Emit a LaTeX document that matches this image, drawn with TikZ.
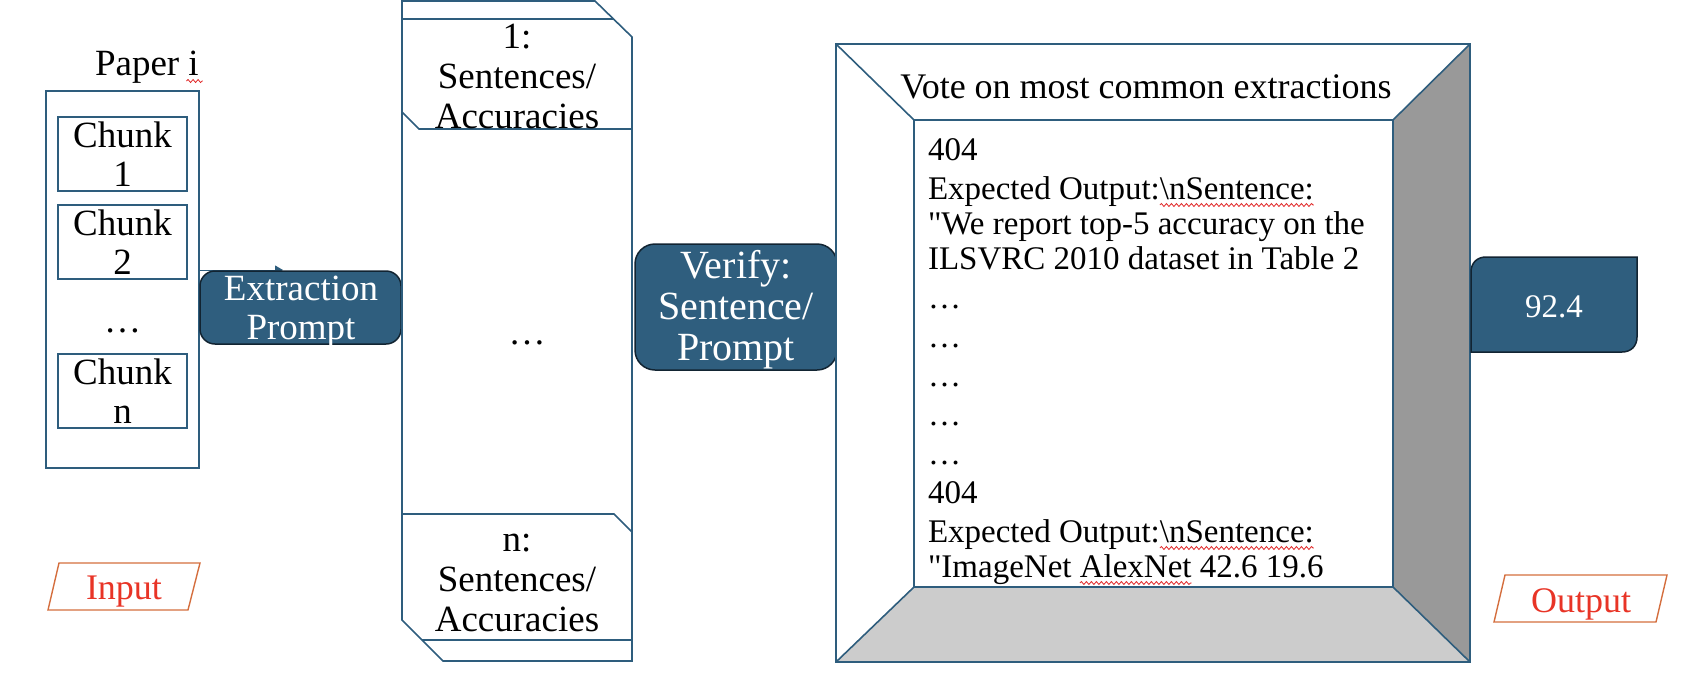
\documentclass[tikz,border=0pt]{standalone}
\usepackage{fontspec}
\setmainfont{Liberation Serif}[Ligatures=TeXOff]
\usetikzlibrary{arrows.meta,decorations.pathmorphing}
\definecolor{lineblue}{RGB}{46,93,125}
\definecolor{boxfill}{RGB}{47,94,126}
\definecolor{boxedge}{RGB}{18,36,50}
\definecolor{redtxt}{RGB}{232,52,38}
\definecolor{orangeedge}{RGB}{212,110,62}
\definecolor{panelgray}{RGB}{153,153,153}
\definecolor{floorgray}{RGB}{204,204,204}
\definecolor{squig}{RGB}{225,40,40}
\newcommand\fsz[2]{\fontsize{#1}{#2}\selectfont}
\begin{document}
\begin{tikzpicture}[x=1pt,y=-1pt,
  outl/.style={draw=lineblue,line width=1.6pt},
  txt/.style={inner sep=0pt,outer sep=0pt,font=\fsz{37}{39},text=black},
  bluebox/.style={draw=boxedge,line width=1.5pt,fill=boxfill,rounded corners=15pt,inner sep=0pt},
  wtxt/.style={inner sep=0pt,outer sep=0pt,text=white,align=center},
  tag/.style={draw=orangeedge,line width=1.4pt},
  tagtxt/.style={inner sep=0pt,outer sep=0pt,text=redtxt,font=\fsz{36}{40},anchor=base},
  wave/.style={draw=squig,line width=0.8pt,decorate,decoration={snake,amplitude=1.5pt,segment length=5pt}},
  body/.style={inner sep=0pt,outer sep=0pt,font=\fsz{33}{36},anchor=base west}
]
\useasboundingbox (0,0) rectangle (1696,678);

% ---------- input: paper ----------
\node[txt,anchor=base west] (papert) at (95,75) {Paper\ \kern0pt};
\node[txt,anchor=base west] (paperi) at (papert.base east) {i};
\draw[wave] ([xshift=-2pt,yshift=-6pt]paperi.base west) -- ([xshift=4pt,yshift=-6pt]paperi.base east);
\node[outl,minimum width=153pt,minimum height=377pt,inner sep=0pt] (paper) at (122.5,279.5) {};
\node[outl,txt,minimum width=129pt,minimum height=74pt,align=center] (c1) at (122.5,154) {Chunk\\1};
\node[outl,txt,minimum width=129pt,minimum height=74pt,align=center] (c2) at (122.5,242) {Chunk\\2};
\node[txt,anchor=base] (cdots) at (122.5,332) {…};
\node[outl,txt,minimum width=129pt,minimum height=74pt,align=center] (cn) at (122.5,391) {Chunk\\n};

% hidden connector behind the prompt box
\coordinate (a2) at (283,270);
\draw[lineblue,line width=1pt,-{Triangle[length=8pt,width=9pt]}] (paper.east |- a2) -- (a2);

% ---------- extraction prompt ----------
\node[bluebox,minimum width=201pt,minimum height=73pt] (ext) at (300.5,307.5) {};
\node[wtxt,font=\fsz{37}{39}] (extt) at (301,312) {Extraction\\Prompt};

% ---------- middle column ----------
\draw[outl] (402,1) -- (595,1) -- (632,37) -- (632,661) -- (443,661) -- (402,620) -- cycle;
\draw[outl] (402,19) -- (613,19);
\draw[outl] (402,112) -- (419,129) -- (632,129);
\draw[outl] (402,514) -- (614,514) -- (632,532);
\draw[outl] (422,640) -- (632,640);
\node[txt,align=center,font=\fsz{37}{40}] (s1) at (517,76) {1:\\Sentences/\\Accuracies};
\node[txt,anchor=base] (mdots) at (527,344) {…};
\node[txt,align=center,font=\fsz{37}{40}] (sn) at (517,583) {n:\\Sentences/\\Accuracies};

% ---------- verify ----------
\node[bluebox,minimum width=202pt,minimum height=126pt,rounded corners=20pt] (ver) at (736,307) {};
\node[wtxt,font=\fsz{40}{41}] (vert) at (736,310) {Verify:\\Sentence/\\Prompt};

% ---------- vote box ----------
\coordinate (o1) at (836,44);  \coordinate (o2) at (1470,44);
\coordinate (o3) at (1470,662); \coordinate (o4) at (836,662);
\coordinate (i1) at (914,120); \coordinate (i2) at (1393,120);
\coordinate (i3) at (1393,587); \coordinate (i4) at (914,587);
\fill[white] (o1) rectangle (o3);
\fill[panelgray] (o2) -- (o3) -- (i3) -- (i2) -- cycle;
\fill[floorgray] (i4) -- (i3) -- (o3) -- (o4) -- cycle;
\draw[outl] (o1) rectangle (o3);
\draw[outl] (i1) rectangle (i3);
\draw[outl] (o1) -- (i1) (o2) -- (i2) (o3) -- (i3) (o4) -- (i4);

\node[inner sep=0pt,font=\fsz{36}{40},anchor=base] (title) at (1146,98) {Vote on most common extractions};

\node[body] (t1) at (928,160) {404};
\node[body] (t2a) at (928,199) {Expected Output:};
\node[body] (t2b) at (t2a.base east) {\textbackslash nSentence:};
\draw[wave] ([yshift=-6pt]t2b.base west) -- ([yshift=-6pt]t2b.base east);
\node[body] (t3) at (928,234) {"We report top-5 accuracy on the};
\node[body] (t4) at (928,269) {ILSVRC 2010 dataset in Table 2};
\node[body] (t5) at (928,308) {…};
\node[body] (t6) at (928,347) {…};
\node[body] (t7) at (928,386) {…};
\node[body] (t8) at (928,425) {…};
\node[body] (t9) at (928,464) {…};
\node[body] (t10) at (928,503) {404};
\node[body] (t11a) at (928,542) {Expected Output:};
\node[body] (t11b) at (t11a.base east) {\textbackslash nSentence:};
\draw[wave] ([yshift=-6pt]t11b.base west) -- ([yshift=-6pt]t11b.base east);
\node[body] (t12a) at (928,577) {"ImageNet\ \kern0pt};
\node[body] (t12b) at (t12a.base east) {AlexNet};
\node[body] (t12c) at (t12b.base east) {\ 42.6 19.6};
\draw[wave] ([yshift=-6pt]t12b.base west) -- ([yshift=-6pt]t12b.base east);

% ---------- output value ----------
\path[fill=boxfill,draw=boxedge,line width=1.5pt] (1471,352) -- (1471,272) .. controls (1471,263) and (1477,257) .. (1486,257) -- (1637,257) -- (1637,337) .. controls (1637,346) and (1631,352) .. (1622,352) -- cycle;
\node[inner sep=0pt,text=white,font=\fsz{33}{36},anchor=base] (res) at (1554,317) {92.4};

% ---------- tags ----------
\draw[tag] (59,563) -- (200,563) -- (188,610) -- (48,610) -- cycle;
\node[tagtxt] (intag) at (124,599) {Input};
\draw[tag] (1505,575) -- (1667,575) -- (1656,622) -- (1494,622) -- cycle;
\node[tagtxt] (outtag) at (1581,612) {Output};
\end{tikzpicture}
\end{document}
